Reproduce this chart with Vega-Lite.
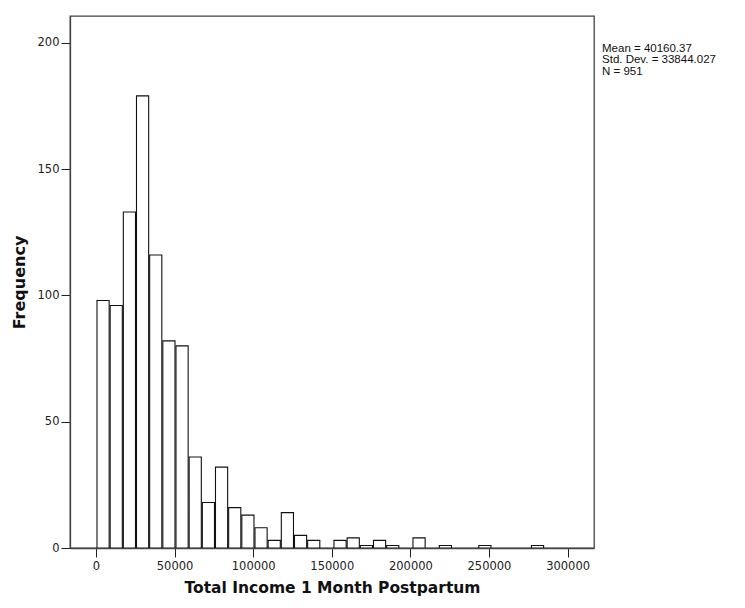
{
  "$schema": "https://vega.github.io/schema/vega-lite/v6.json",
  "autosize": {"type": "none"},
  "padding": {"left": 70, "top": 16, "right": 151, "bottom": 60},
  "width": 524,
  "height": 532,
  "background": "white",
  "config": {
    "font": "DejaVu Sans",
    "view": {"stroke": "#444444", "strokeWidth": 1.3},
    "axis": {
      "domainColor": "#444444",
      "domainWidth": 1.3,
      "tickColor": "#222222",
      "tickSize": 9,
      "tickWidth": 1,
      "labelFont": "DejaVu Sans",
      "labelFontSize": 11.5,
      "labelColor": "#222222",
      "titleFont": "DejaVu Sans",
      "titleFontWeight": "bold",
      "titleColor": "#111111",
      "grid": false
    }
  },
  "datasets": {
    "hist": [
      {"bin_start": 0, "bin_end": 8375, "count": 98},
      {"bin_start": 8375, "bin_end": 16750, "count": 96},
      {"bin_start": 16750, "bin_end": 25125, "count": 133},
      {"bin_start": 25125, "bin_end": 33500, "count": 179},
      {"bin_start": 33500, "bin_end": 41875, "count": 116},
      {"bin_start": 41875, "bin_end": 50250, "count": 82},
      {"bin_start": 50250, "bin_end": 58625, "count": 80},
      {"bin_start": 58625, "bin_end": 67000, "count": 36},
      {"bin_start": 67000, "bin_end": 75375, "count": 18},
      {"bin_start": 75375, "bin_end": 83750, "count": 32},
      {"bin_start": 83750, "bin_end": 92125, "count": 16},
      {"bin_start": 92125, "bin_end": 100500, "count": 13},
      {"bin_start": 100500, "bin_end": 108875, "count": 8},
      {"bin_start": 108875, "bin_end": 117250, "count": 3},
      {"bin_start": 117250, "bin_end": 125625, "count": 14},
      {"bin_start": 125625, "bin_end": 134000, "count": 5},
      {"bin_start": 134000, "bin_end": 142375, "count": 3},
      {"bin_start": 150750, "bin_end": 159125, "count": 3},
      {"bin_start": 159125, "bin_end": 167500, "count": 4},
      {"bin_start": 167500, "bin_end": 175875, "count": 1},
      {"bin_start": 175875, "bin_end": 184250, "count": 3},
      {"bin_start": 184250, "bin_end": 192625, "count": 1},
      {"bin_start": 201000, "bin_end": 209375, "count": 4},
      {"bin_start": 217750, "bin_end": 226125, "count": 1},
      {"bin_start": 242875, "bin_end": 251250, "count": 1},
      {"bin_start": 276375, "bin_end": 284750, "count": 1}
    ]
  },
  "layer": [
    {
      "data": {"name": "hist"},
      "mark": {"type": "bar", "fill": "white", "stroke": "#111111", "strokeWidth": 1.1, "clip": true},
      "encoding": {
        "x": {
          "field": "bin_start",
          "type": "quantitative",
          "bin": {"binned": true},
          "scale": {"domain": [-16540, 316800], "nice": false, "zero": false},
          "axis": {"values": [0, 50000, 100000, 150000, 200000, 250000, 300000], "format": "d", "labelPadding": 3, "titlePadding": 9, "titleFontSize": 15.5},
          "title": "Total Income 1 Month Postpartum"
        },
        "x2": {"field": "bin_end"},
        "y": {
          "field": "count",
          "type": "quantitative",
          "scale": {"domain": [0, 210.6], "nice": false},
          "axis": {"values": [0, 50, 100, 150, 200], "labelPadding": 2, "titlePadding": 10, "titleFontSize": 16},
          "title": "Frequency"
        },
        "y2": {"datum": 0}
      }
    },
    {
      "data": {"values": [{}]},
      "mark": {"type": "text", "align": "left", "baseline": "top", "fontSize": 11.5, "lineHeight": 11.5, "color": "#111111", "clip": false, "font": "Liberation Sans"},
      "encoding": {
        "x": {"datum": 321900, "type": "quantitative"},
        "y": {"datum": 200.0, "type": "quantitative"},
        "text": {"value": ["Mean = 40160.37", "Std. Dev. = 33844.027", "N = 951"]}
      }
    }
  ]
}
